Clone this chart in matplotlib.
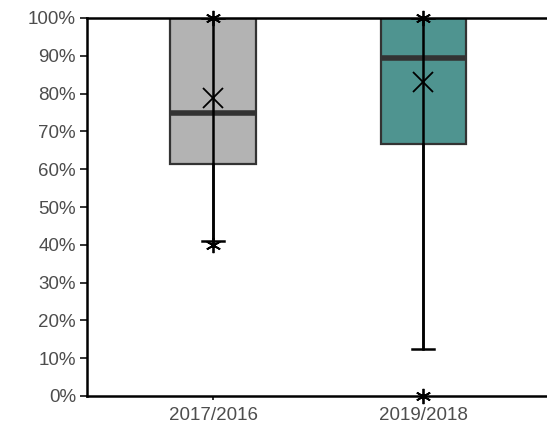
import numpy as np
import matplotlib.pyplot as plt
from matplotlib.ticker import PercentFormatter

plt.rcParams['font.family'] = ['Liberation Sans', 'DejaVu Sans']

# data (percent)
labels = ['2017/2016', '2019/2018']
q1 = [61.5, 66.7]
med = [75.0, 89.5]
q3 = [100.0, 100.0]
mean = [78.8, 83.1]
whislo = [41.0, 12.5]
whishi = [100.0, 100.0]
fliers_lo = [40.0, 0.0]
fliers_hi = [100.0, 100.0]
box_colors = ['#b3b3b3', '#4f9490']

fig = plt.figure(figsize=(5.47, 4.30), dpi=100)
ax = fig.add_axes([87 / 547, 34 / 430, 1 - 87 / 547, 378 / 430])

positions = [1, 2]
stats = []
for i in range(len(labels)):
    stats.append(dict(label=labels[i], q1=q1[i], med=med[i], q3=q3[i],
                      mean=mean[i], whislo=whislo[i], whishi=whishi[i],
                      fliers=[]))

bp = ax.bxp(stats, positions=positions, widths=0.405, patch_artist=True,
            showfliers=False, showmeans=False,
            boxprops=dict(edgecolor='#333333', linewidth=1.6),
            medianprops=dict(color='#333333', linewidth=4, solid_capstyle='butt'),
            whiskerprops=dict(color='black', linewidth=1.8),
            capprops=dict(color='black', linewidth=1.8), capwidths=0.105)
for patch, c in zip(bp['boxes'], box_colors):
    patch.set_facecolor(c)

# whisker line drawn across the box
ax.vlines(positions, whislo, whishi, color='black', linewidth=1.8, zorder=4)

# mean marker
ax.plot(positions, mean, linestyle='None', marker='x', markersize=14,
        markeredgewidth=1.3, color='black', zorder=5)
# extreme points
ax.plot(positions, fliers_lo, linestyle='None', marker=(6, 2, 0), markersize=11,
        markeredgewidth=1.3, color='black', zorder=5, clip_on=False)
ax.plot(positions, fliers_hi, linestyle='None', marker=(6, 2, 0), markersize=11,
        markeredgewidth=1.3, color='black', zorder=5, clip_on=False)

ax.set_ylim(0, 100)
ax.set_xlim(0.4, 2.59)
ax.set_yticks(np.arange(0, 101, 10))
ax.yaxis.set_major_formatter(PercentFormatter(decimals=0))
ax.set_xticks(positions)
ax.set_xticklabels(labels)

for s in ['left', 'bottom', 'top']:
    ax.spines[s].set_linewidth(1.8)
    ax.spines[s].set_color('black')
ax.spines['right'].set_visible(False)
ax.tick_params(axis='y', length=5, width=1.4, colors='#333333', labelcolor='#4d4d4d',
               labelsize=13.5, pad=3)
ax.tick_params(axis='x', length=3, width=1.4, colors='#333333', labelcolor='#4d4d4d',
               labelsize=13.5, pad=5)

fig.savefig('out.png', dpi=100)
